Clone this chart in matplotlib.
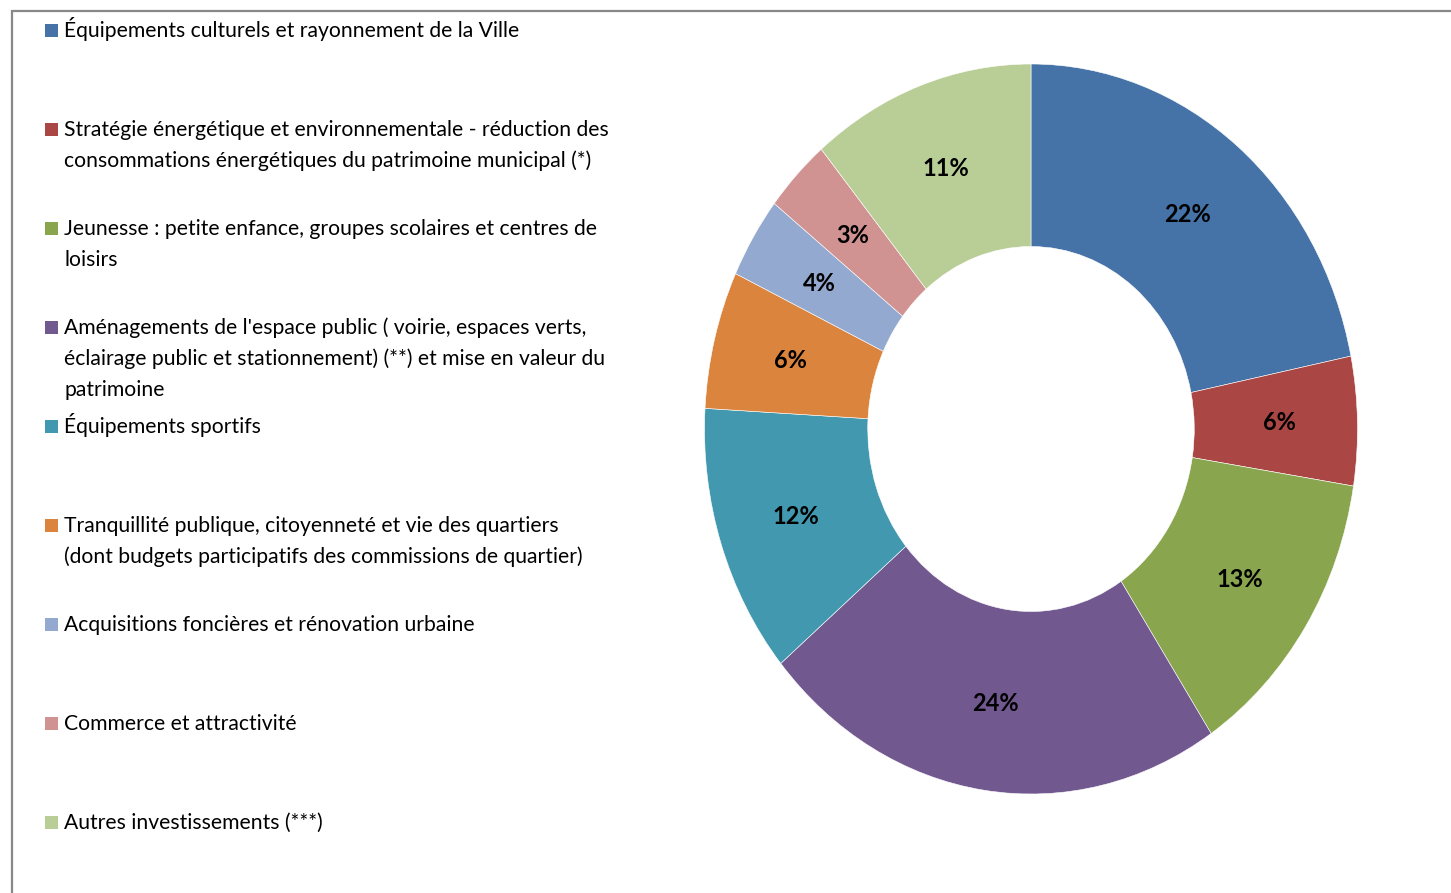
import matplotlib
matplotlib.use('Agg')
import matplotlib.pyplot as plt
from matplotlib.patches import Rectangle

# Categories, in clockwise order from 12 o'clock
categories = [
    "Équipements culturels et rayonnement de la Ville",
    "Stratégie énergétique et environnementale - réduction des\nconsommations énergétiques du patrimoine municipal (*)",
    "Jeunesse : petite enfance, groupes scolaires et centres de\nloisirs",
    "Aménagements de l'espace public ( voirie, espaces verts,\néclairage public et stationnement) (**) et mise en valeur du\npatrimoine",
    "Équipements sportifs",
    "Tranquillité publique, citoyenneté et vie des quartiers\n(dont budgets participatifs des commissions de quartier)",
    "Acquisitions foncières et rénovation urbaine",
    "Commerce et attractivité",
    "Autres investissements (***)",
]
shares = [21.8, 5.7, 13.2, 23.2, 12.0, 6.1, 3.6, 3.3, 11.1]
pct_labels = ["22%", "6%", "13%", "24%", "12%", "6%", "4%", "3%", "11%"]
colors = ["#4572A7", "#AA4643", "#89A54E", "#71588F", "#4198AF",
          "#DB843D", "#93A9CF", "#D19392", "#B9CD96"]

W, H = 1451, 893
plt.rcParams['font.family'] = ['Lato', 'DejaVu Sans']
fig = plt.figure(figsize=(W / 100, H / 100), dpi=100)

# gray frame (right and bottom edges fall outside the picture)
fig.patches.append(Rectangle((11.5 / W, -0.05), 1.1, (H - 10.5) / H + 0.05,
                             transform=fig.transFigure, fill=False,
                             edgecolor="#888888", linewidth=1.6))

# donut, slightly taller than wide as in the original
ax = fig.add_axes([704.5 / W, (H - 794) / H, 653 / W, 730 / H])
wedges, texts = ax.pie(
    shares, colors=colors, startangle=90, counterclock=False, radius=1.0,
    labels=pct_labels, labeldistance=0.76,
    wedgeprops=dict(width=0.5, edgecolor="white", linewidth=0.4),
    textprops=dict(fontsize=17, fontweight="bold", color="black"))
for t in texts:
    t.set_horizontalalignment('center')
    t.set_verticalalignment('center')
ax.set_aspect('auto')
ax.set_xlim(-1, 1)
ax.set_ylim(-1, 1)
ax.axis('off')

# legend drawn by hand, one block per category
for i, (label, c) in enumerate(zip(categories, colors)):
    yc = 30 + 99 * i
    fig.patches.append(Rectangle((45 / W, 1 - (yc + 6.5) / H), 13 / W, 13 / H,
                                 transform=fig.transFigure, facecolor=c,
                                 edgecolor="none"))
    for j, line in enumerate(label.split("\n")):
        fig.text(64 / W, 1 - (yc + 7 + 31 * j) / H, line, fontsize=15.2,
                 va='baseline', ha='left', color="black")

fig.savefig("out.png", dpi=100)
